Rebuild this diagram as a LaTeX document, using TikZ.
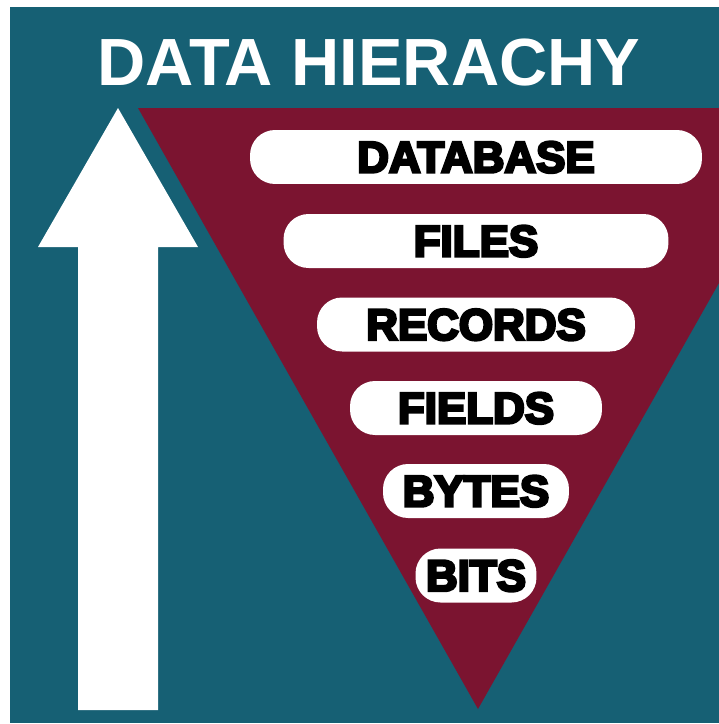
\documentclass[tikz,border=0pt]{standalone}
\usepackage{fontspec}
\setmainfont{Liberation Sans}
\newfontfamily\pillfont{Liberation Sans Bold}[FakeBold=6]
\usepackage{tikz}

\begin{document}
\begin{tikzpicture}
	[x=0.02cm,y=-0.02cm,line join=miter,
	%Styles
	title text/.style={text=white,anchor=base,inner sep=0pt,
		font=\fontsize{38}{40}\selectfont\bfseries},
	level box/.style={fill=white,rounded corners=0.5cm,inner sep=0pt,
		minimum width=#1,minimum height=1.08cm,text height=17.5pt,text depth=0pt,
		font=\pillfont\fontsize{25}{27}\selectfont}
	]
	
	%Colors
	\definecolor{backcolor}{RGB}{22,96,116}
	\definecolor{wedgecolor}{RGB}{123,20,48}
	
	%The graphic
	\useasboundingbox (0,0) rectangle (719,724);
	\fill[white] (0,0) rectangle (719,724);
	\fill[backcolor] (10,7) rectangle (719,723);
	
	\node[title text] (title) at (369,85) {DATA HIERACHY};
	
	% wedge, cut off at the right border
	\fill[wedgecolor] (138,108) -- (719,108) -- (719,283) -- (478,709) -- cycle;
	
	% up arrow
	\fill[white] (118,108) -- (198,247) -- (158,247) -- (158,710)
		-- (78,710) -- (78,247) -- (38,247) -- cycle;
	
	\node[level box=9.04cm] (database) at (476,157) {DATABASE};
	\node[level box=7.70cm] (files) at (476,241) {FILES};
	\node[level box=6.36cm] (records) at (476,324.5) {RECORDS};
	\node[level box=5.04cm] (fields) at (476,408) {FIELDS};
	\node[level box=3.72cm] (bytes) at (476,491) {BYTES};
	\node[level box=2.42cm] (bits) at (476,575.5) {BITS};
\end{tikzpicture}
\end{document}
